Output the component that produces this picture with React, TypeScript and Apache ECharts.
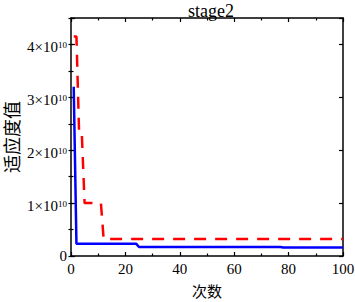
import React, { useEffect, useRef } from 'react';
import * as echarts from 'echarts';

const iterBlue = [1, 2, 24, 25, 77, 78, 100];
const fitBlue = [3.2e10, 0.23e10, 0.23e10, 0.17e10, 0.17e10, 0.16e10, 0.16e10];
const iterRed = [1, 2, 3, 4, 5, 11, 12, 100];
const fitRed = [4.15e10, 4.15e10, 2.28e10, 2.28e10, 1.0e10, 1.0e10, 0.32e10, 0.32e10];
const titleText = 'stage2';
const xName = '次数';
const yName = '适应度值';

const SERIF = 'Liberation Serif';
const CJK = 'Noto Sans CJK SC';

export default function App() {
  const ref = useRef<HTMLDivElement>(null);
  useEffect(() => {
    if (!ref.current) return;
    const chart = echarts.init(ref.current, undefined, { renderer: 'svg' });
    const line = { lineStyle: { color: '#000', width: 1.5 } };
    const yMin = 0, yMax = 4.5e10;
    const common = { type: 'value' as const, splitLine: { show: false }, minorSplitLine: { show: false } };
    chart.setOption({
      animation: false,
      backgroundColor: '#fff',
      title: {
        text: titleText, left: 206, top: -3, textAlign: 'center',
        textStyle: { fontFamily: SERIF, fontSize: 18, fontWeight: 'normal', color: '#000' },
      },
      grid: { left: 71, top: 18, right: 12, bottom: 46, containLabel: false, outerBoundsMode: 'none' },
      xAxis: [
        {
          ...common, position: 'bottom', min: 0, max: 100, interval: 20,
          axisLine: { show: true, ...line },
          axisTick: { show: true, inside: true, length: 4, lineStyle: { color: '#000', width: 1.2 } },
          minorTick: { show: true, splitNumber: 2, length: 2.5, lineStyle: { color: '#000', width: 1.2 } },
          axisLabel: { fontFamily: SERIF, fontSize: 15, color: '#000', margin: 5 },
          name: xName, nameLocation: 'middle', nameGap: 27, nameMoveOverlap: false,
          nameTextStyle: { fontFamily: CJK, fontSize: 15, color: '#000' },
        },
        {
          ...common, position: 'top', min: 0, max: 100, interval: 20,
          axisLine: { show: true, onZero: false, ...line },
          axisTick: { show: true, inside: true, length: 4, lineStyle: { color: '#000', width: 1.2 } },
          minorTick: { show: true, splitNumber: 2, length: 2.5, lineStyle: { color: '#000', width: 1.2 } },
          axisLabel: { show: false },
        },
      ],
      yAxis: [
        {
          ...common, position: 'left', min: yMin, max: yMax, interval: 1e10,
          axisLine: { show: true, onZero: false, ...line },
          axisTick: { show: true, inside: true, length: 4, lineStyle: { color: '#000', width: 1.2 } },
          axisLabel: {
            margin: 4,
            formatter: (v: number) => {
              const n = Math.round(v / 1e10);
              if (Math.abs(v - n * 1e10) > 1) return '';
              if (n === 0) return '{z|0}';
              return `{m|${n}×10}{s|10}`;
            },
            rich: {
              z: { fontFamily: SERIF, fontSize: 15, color: '#000', lineHeight: 18 },
              m: { fontFamily: SERIF, fontSize: 15, color: '#000', lineHeight: 20, verticalAlign: 'bottom' },
              s: { fontFamily: SERIF, fontSize: 9, color: '#000', lineHeight: 9, padding: [6, 0, 11, 0], verticalAlign: 'top' },
            },
          },
          name: yName, nameLocation: 'middle', nameGap: 51, nameRotate: 90, nameMoveOverlap: false,
          nameTextStyle: { fontFamily: CJK, fontSize: 18, color: '#000' },
        },
        {
          ...common, position: 'left', min: yMin, max: yMax, interval: 0.5e10,
          axisLine: { show: false },
          axisTick: { show: true, inside: true, length: 2.5, lineStyle: { color: '#000', width: 1.2 } },
          axisLabel: { show: false },
        },
        {
          ...common, position: 'right', min: yMin, max: yMax, interval: 1e10,
          axisLine: { show: true, onZero: false, ...line },
          axisTick: { show: true, inside: true, length: 4, lineStyle: { color: '#000', width: 1.2 } },
          axisLabel: { show: false },
        },
        {
          ...common, position: 'right', min: yMin, max: yMax, interval: 0.5e10,
          axisLine: { show: false },
          axisTick: { show: true, inside: true, length: 2.5, lineStyle: { color: '#000', width: 1.2 } },
          axisLabel: { show: false },
        },
      ],
      series: [
        {
          type: 'line', xAxisIndex: 0, yAxisIndex: 0, showSymbol: false, symbol: 'none',
          data: iterBlue.map((x, i) => [x, fitBlue[i]]),
          lineStyle: { color: '#0000ff', width: 2.5 },
          z: 3,
        },
        {
          type: 'line', xAxisIndex: 0, yAxisIndex: 0, showSymbol: false, symbol: 'none',
          data: iterRed.map((x, i) => [x, fitRed[i]]),
          lineStyle: { color: '#ff0000', width: 2.5, type: [12, 9] },
          z: 4,
        },
      ],
    });
    return () => chart.dispose();
  }, []);
  return <div ref={ref} style={{ position: 'absolute', left: 0, top: 0, width: 355, height: 302 }} />;
}
